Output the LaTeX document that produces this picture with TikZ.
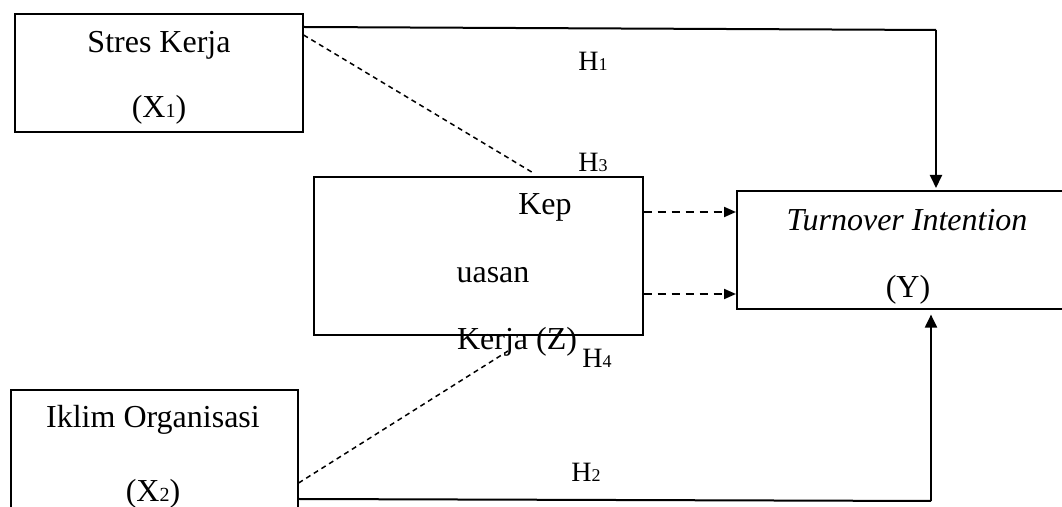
\documentclass[tikz,border=0pt]{standalone}
\usepackage{fontspec}
\setmainfont{Liberation Serif}
\usetikzlibrary{arrows.meta}

\newcommand{\bigtxt}{\fontsize{16}{19}\selectfont}
\newcommand{\hyptxt}{\fontsize{14}{16}\selectfont}
\newcommand{\subtxt}[1]{{\fontsize{10}{10}\selectfont #1}}
\newcommand{\hsub}[1]{{\fontsize{9}{9}\selectfont #1}}

\tikzset{
  box/.style = {draw, line width = 0.8pt, inner sep = 0pt, anchor = north west},
  boxtext/.style = {font = \bigtxt, inner sep = 0pt},
  hyptext/.style = {font = \hyptxt, inner sep = 0pt},
  direct/.style = {line width = 1pt, -{Triangle[length = 6.5pt, width = 6pt]}},
  direct line/.style = {line width = 1pt},
  mediated/.style = {line width = 1pt, dash pattern = on 4pt off 3pt,
    -{Triangle[length = 6pt, width = 5pt]}},
  indirect/.style = {line width = 0.75pt, dash pattern = on 2.5pt off 2pt}
}

\begin{document}
\begin{tikzpicture}[x = 0.5pt, y = -0.5pt]
  \useasboundingbox (0, 0) rectangle (1062, 507);
  \clip (0, 0) rectangle (1062, 507);

  \node[box, minimum width = 144pt, minimum height = 59pt] (x1) at (14, 13) {};
  \node[box, minimum width = 164.5pt, minimum height = 79pt] (z) at (313, 176) {};
  \node[box, minimum width = 170pt, minimum height = 59pt] (y) at (736, 190) {};
  \node[box, minimum width = 143.5pt, minimum height = 75pt] (x2) at (10, 389) {};

  \node[boxtext] (x1a) at (159, 45) {Stres Kerja};
  \node[boxtext] (x1b) at (159, 110) {(X\subtxt{1})};
  \node[boxtext] (za) at (545, 207) {Kep};
  \node[boxtext] (zb) at (493, 275) {uasan};
  \node[boxtext] (zc) at (517, 342) {Kerja (Z)};
  \node[boxtext] (ya) at (907, 220) {\textit{Turnover Intention}};
  \node[boxtext] (yb) at (908, 290) {(Y)};
  \node[boxtext] (x2a) at (153, 420) {Iklim Organisasi};
  \node[boxtext] (x2b) at (153, 494) {(X\subtxt{2})};

  \node[hyptext] (h1) at (593, 61) {H\hsub{1}};
  \node[hyptext] (h3) at (593, 162) {H\hsub{3}};
  \node[hyptext] (h4) at (597, 358) {H\hsub{4}};
  \node[hyptext] (h2) at (586, 472) {H\hsub{2}};

  \coordinate (topturn) at (936, 30);
  \coordinate (botturn) at (931, 501);
  \coordinate (x2end) at (508, 351);

  \draw[direct line] ([yshift = -7pt]x1.north east) -- (topturn);
  \draw[direct, shorten > = 1pt] (topturn) -- (topturn |- y.north);
  \draw[direct line] ([yshift = -55pt]x2.north east) -- (botturn);
  \draw[direct, shorten > = 2.5pt] (botturn) -- (botturn |- y.south);

  \draw[indirect] ([yshift = -11pt]x1.north east)
    -- ([xshift = 111pt, yshift = 1pt]z.north west);
  \draw[indirect] ([yshift = -47pt]x2.north east) -- (x2end);

  \draw[mediated] ([yshift = -18pt]z.north east)
    -- ([yshift = -18pt]z.north east -| y.west);
  \draw[mediated] ([yshift = -59pt]z.north east)
    -- ([yshift = -59pt]z.north east -| y.west);
\end{tikzpicture}
\end{document}
